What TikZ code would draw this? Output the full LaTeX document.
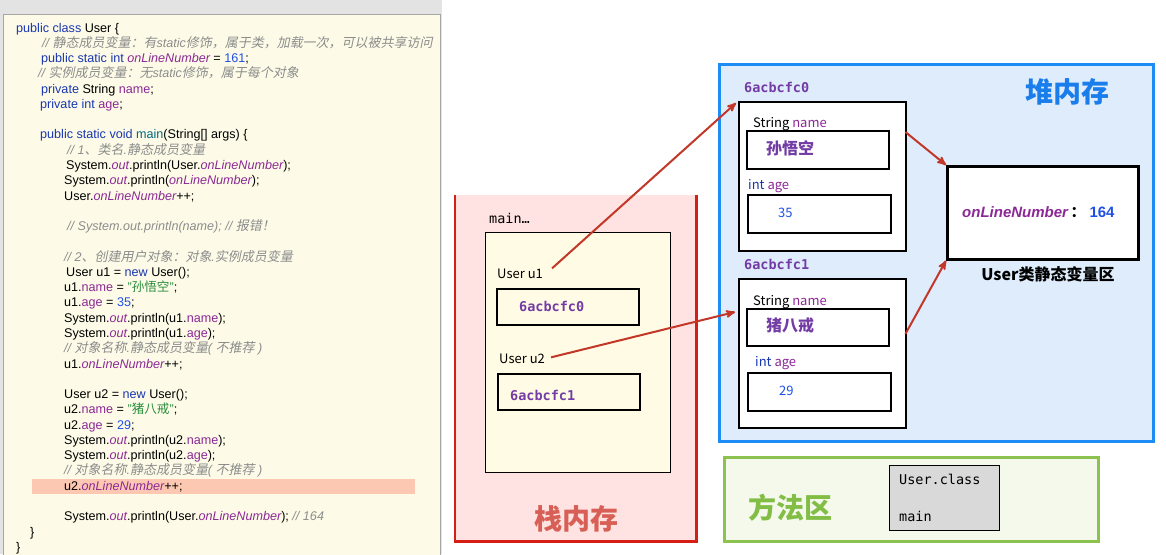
\documentclass[tikz,border=0pt]{standalone}
\usepackage{fontspec}
\setmainfont{Liberation Sans}
\setmonofont{DejaVu Sans Mono}
\newfontfamily\cjk{Noto Sans CJK SC}
\newfontfamily\cjkit{Noto Sans CJK SC}[FakeSlant=0.2, Scale=1.03]
\newfontfamily\lblfont{Noto Sans CJK SC}
\usepackage{tikz}
\usetikzlibrary{arrows, positioning, calc}
\definecolor{kwcolor}{RGB}{25,55,175}
\definecolor{fieldcolor}{RGB}{140,40,150}
\definecolor{numcolor}{RGB}{30,80,230}
\definecolor{strcolor}{RGB}{40,140,60}
\definecolor{cmtcolor}{RGB}{140,140,140}
\definecolor{methcolor}{RGB}{0,105,125}
\definecolor{panelcolor}{RGB}{253,251,231}
\definecolor{hilitecolor}{RGB}{253,200,178}
\definecolor{stackcolor}{RGB}{255,226,226}
\definecolor{stackline}{RGB}{215,30,20}
\definecolor{stacktext}{RGB}{215,95,85}
\definecolor{heapcolor}{RGB}{223,236,252}
\definecolor{heapline}{RGB}{30,140,245}
\definecolor{heaptext}{RGB}{25,125,235}
\definecolor{methodcolor}{RGB}{244,249,236}
\definecolor{methodline}{RGB}{140,195,80}
\definecolor{methodtext}{RGB}{130,190,70}
\definecolor{addrcolor}{RGB}{115,60,165}
\definecolor{refcolor}{RGB}{195,55,40}
\definecolor{framecolor}{RGB}{255,251,228}
\newcommand{\kw}[1]{\textcolor{kwcolor}{#1}}
\newcommand{\fld}[1]{\textcolor{fieldcolor}{#1}}
\newcommand{\sfld}[1]{\textcolor{fieldcolor}{\itshape #1}}
\newcommand{\lit}[1]{\textcolor{numcolor}{#1}}
\newcommand{\strlit}[1]{\textcolor{strcolor}{#1}}
\newcommand{\cmt}[1]{\textcolor{cmtcolor}{\itshape #1}}
\newcommand{\zh}[1]{{\cjk #1}}
\newcommand{\zhit}[1]{{\cjkit #1}}
\tikzset{
  codeline/.style={anchor=base west, inner sep=0pt, font=\fontsize{12.6}{14}\selectfont},
  area/.style={anchor=north west, inner sep=0pt, fill=#1},
  objbox/.style={anchor=north west, inner sep=0pt, draw, line width=2.4pt, fill=white},
  valbox/.style={anchor=north west, inner sep=0pt, draw, line width=1.8pt},
  addr/.style={inner sep=0pt, font=\fontsize{13.5}{15}\selectfont\ttfamily\bfseries, text=addrcolor},
  fieldlbl/.style={anchor=base west, inner sep=0pt, font=\fontsize{13}{15}\selectfont\lblfont},
  bigtitle/.style={inner sep=0pt, font=\fontsize{28}{30}\selectfont\cjk\bfseries},
  ref/.style={-stealth', line width=2pt, draw=refcolor},
}
\begin{document}
\begin{tikzpicture}[x=1pt, y=-1pt]
  \useasboundingbox (0,0) rectangle (1166,554);
  \fill[white] (0,0) rectangle (1166,554);
  \fill[black!11] (0,0) rectangle (442,554);

  % --- Code panel ---
  \node[area=panelcolor, draw=black!35, line width=1pt, minimum width=437pt,
        minimum height=545pt] (panel) at (3,14) {};
  \node[area=hilitecolor, minimum width=383pt, minimum height=15pt]
    (hilite) at (32,479) {};

  \node[codeline] (code01) at (16,32) {\kw{public class} User \{};
  \node[codeline] (code02) at (42,47) {\cmt{// \zhit{静态成员变量：有}static\zhit{修饰，属于类，加载一次，可以被共享访问}}};
  \node[codeline] (code03) at (41,62) {\kw{public static int} \sfld{onLineNumber} = \lit{161};};
  \node[codeline] (code04) at (38,77) {\cmt{// \zhit{实例成员变量：无}static\zhit{修饰，属于每个对象}}};
  \node[codeline] (code05) at (41,93) {\kw{private} String \fld{name};};
  \node[codeline] (code06) at (40,108) {\kw{private int} \fld{age};};
  \node[codeline] (code07) at (40,138) {\kw{public static void} \textcolor{methcolor}{main}(String[] args) \{};
  \node[codeline] (code08) at (67,154) {\cmt{// 1\zhit{、类名}.\zhit{静态成员变量}}};
  \node[codeline] (code09) at (66,169) {System.\sfld{out}.println(User.\sfld{onLineNumber});};
  \node[codeline] (code10) at (64,184) {System.\sfld{out}.println(\sfld{onLineNumber});};
  \node[codeline] (code11) at (64,200) {User.\sfld{onLineNumber}++;};
  \node[codeline] (code12) at (67,230) {\cmt{// System.out.println(name); // \zhit{报错！}}};
  \node[codeline] (code13) at (64,261) {\cmt{// 2\zhit{、创建用户对象：对象}.\zhit{实例成员变量}}};
  \node[codeline] (code14) at (66,276) {User u1 = \kw{new} User();};
  \node[codeline] (code15) at (64,291) {u1.\fld{name} = \strlit{"\zh{孙悟空}"};};
  \node[codeline] (code16) at (64,306) {u1.\fld{age} = \lit{35};};
  \node[codeline] (code17) at (64,322) {System.\sfld{out}.println(u1.\fld{name});};
  \node[codeline] (code18) at (64,337) {System.\sfld{out}.println(u1.\fld{age});};
  \node[codeline] (code19) at (64,352) {\cmt{// \zhit{对象名称}.\zhit{静态成员变量}( \zhit{不推荐} )}};
  \node[codeline] (code20) at (64,368) {u1.\sfld{onLineNumber}++;};
  \node[codeline] (code21) at (64,398) {User u2 = \kw{new} User();};
  \node[codeline] (code22) at (64,413) {u2.\fld{name} = \strlit{"\zh{猪八戒}"};};
  \node[codeline] (code23) at (64,429) {u2.\fld{age} = \lit{29};};
  \node[codeline] (code24) at (64,444) {System.\sfld{out}.println(u2.\fld{name});};
  \node[codeline] (code25) at (64,459) {System.\sfld{out}.println(u2.\fld{age});};
  \node[codeline] (code26) at (64,474) {\cmt{// \zhit{对象名称}.\zhit{静态成员变量}( \zhit{不推荐} )}};
  \node[codeline] (code27) at (64,490) {u2.\sfld{onLineNumber}++;};
  \node[codeline] (code28) at (64,520) {System.\sfld{out}.println(User.\sfld{onLineNumber}); \cmt{// 164}};
  \node[codeline] (code29) at (30,536) {\}};
  \node[codeline] (code30) at (16,551) {\}};

  % --- Stack ---
  \node[area=stackcolor, minimum width=241pt, minimum height=346pt]
    (stack) at (455,195) {};
  \draw[stackline, line width=2.5pt]
    (stack.north west) -- (stack.south west) -- (stack.south east) -- (stack.north east);
  \node[anchor=base west, inner sep=0pt, font=\fontsize{13.5}{15}\selectfont\ttfamily]
    (mainlbl) at (489,223) {main…};
  \node[area=framecolor, draw, line width=0.8pt, minimum width=185pt,
        minimum height=240pt] (frame) at (485,232) {};
  \node[fieldlbl] (u1lbl) at (497,278) {User u1};
  \node[valbox, minimum width=142pt, minimum height=36pt] (slotA) at (496,288) {};
  \node[addr, anchor=west] (slotAtxt) at (519,306) {6acbcfc0};
  \node[fieldlbl] (u2lbl) at (499,363) {User u2};
  \node[valbox, minimum width=142pt, minimum height=36pt] (slotB) at (497,373) {};
  \node[addr, anchor=west] (slotBtxt) at (510,395) {6acbcfc1};
  \node[bigtitle, text=stacktext] (stacktitle) at (576,519) {栈内存};

  % --- Heap ---
  \node[area=heapcolor, draw=heapline, line width=2.5pt, minimum width=434pt,
        minimum height=377pt] (heap) at (718,63) {};
  \node[bigtitle, text=heaptext] (heaptitle) at (1067,92) {堆内存};

  \node[addr, anchor=base west] (addrA) at (744,92) {6acbcfc0};
  \node[objbox, minimum width=167pt, minimum height=149pt] (objA) at (738,101) {};
  \node[fieldlbl] (nameAlbl) at (753,127) {String \textcolor{fieldcolor}{name}};
  \node[valbox, minimum width=142pt, minimum height=38pt] (nameA) at (746,130) {};
  \node[anchor=west, inner sep=0pt, font=\fontsize{16}{18}\selectfont\cjk\bfseries,
        text=addrcolor] (nameAtxt) at (766,148) {孙悟空};
  \node[fieldlbl] (ageAlbl) at (748,189) {\textcolor{kwcolor}{int} \textcolor{fieldcolor}{age}};
  \node[valbox, minimum width=143pt, minimum height=38pt] (ageA) at (747,194) {};
  \node[anchor=west, inner sep=0pt, font=\fontsize{13}{15}\selectfont\lblfont,
        text=numcolor] (ageAtxt) at (778,213) {35};

  \node[addr, anchor=base west] (addrB) at (744,269) {6acbcfc1};
  \node[objbox, minimum width=167pt, minimum height=149pt] (objB) at (738,278) {};
  \node[fieldlbl] (nameBlbl) at (753,305) {String \textcolor{fieldcolor}{name}};
  \node[valbox, minimum width=142pt, minimum height=37pt] (nameB) at (746,308) {};
  \node[anchor=west, inner sep=0pt, font=\fontsize{16}{18}\selectfont\cjk\bfseries,
        text=addrcolor] (nameBtxt) at (766,325) {猪八戒};
  \node[fieldlbl] (ageBlbl) at (755,366) {\textcolor{kwcolor}{int} \textcolor{fieldcolor}{age}};
  \node[valbox, minimum width=143pt, minimum height=38pt] (ageB) at (747,372) {};
  \node[anchor=west, inner sep=0pt, font=\fontsize{13}{15}\selectfont\lblfont,
        text=numcolor] (ageBtxt) at (779,391) {29};

  \node[objbox, line width=2.6pt, minimum width=191pt, minimum height=93pt]
    (static) at (946,165) {};
  \node[anchor=west, inner sep=0pt, font=\fontsize{15}{17}\selectfont\bfseries]
    (statictxt) at (962,212)
    {\textcolor{fieldcolor}{\itshape onLineNumber}\,\zh{：}\hspace{4pt}\textcolor{numcolor}{164}};
  \node[inner sep=0pt, font=\fontsize{16}{18}\selectfont\cjk\bfseries]
    (staticlbl) at (1048,274) {User类静态变量区};

  % --- Method area ---
  \node[area=methodcolor, draw=methodline, line width=2.5pt, minimum width=374pt,
        minimum height=84pt] (method) at (723,456) {};
  \node[bigtitle, text=methodtext] (methodtitle) at (790,508) {方法区};
  \node[area=black!15, draw, line width=1.2pt, minimum width=110pt,
        minimum height=65pt] (classbox) at (889,465) {};
  \node[anchor=base west, inner sep=0pt, font=\fontsize{13.5}{15}\selectfont\ttfamily]
    (classtxt) at (899,484) {User.class};
  \node[anchor=base west, inner sep=0pt, font=\fontsize{13.5}{15}\selectfont\ttfamily]
    (maintxt) at (899,521) {main};

  % --- References ---
  \draw[ref] ($(u1lbl.east)+(9,-5)$) -- ($(objA.north west)+(-2,2)$);
  \draw[ref] ($(u2lbl.east)+(6,-1)$) -- ($(objB.north west)+(-3,34)$);
  \draw[ref] ($(objA.north east)+(-2,31)$) -- (static.north west);
  \draw[ref] ($(objB.north east)+(-2,56)$) -- (static.south west);

\end{tikzpicture}
\end{document}
